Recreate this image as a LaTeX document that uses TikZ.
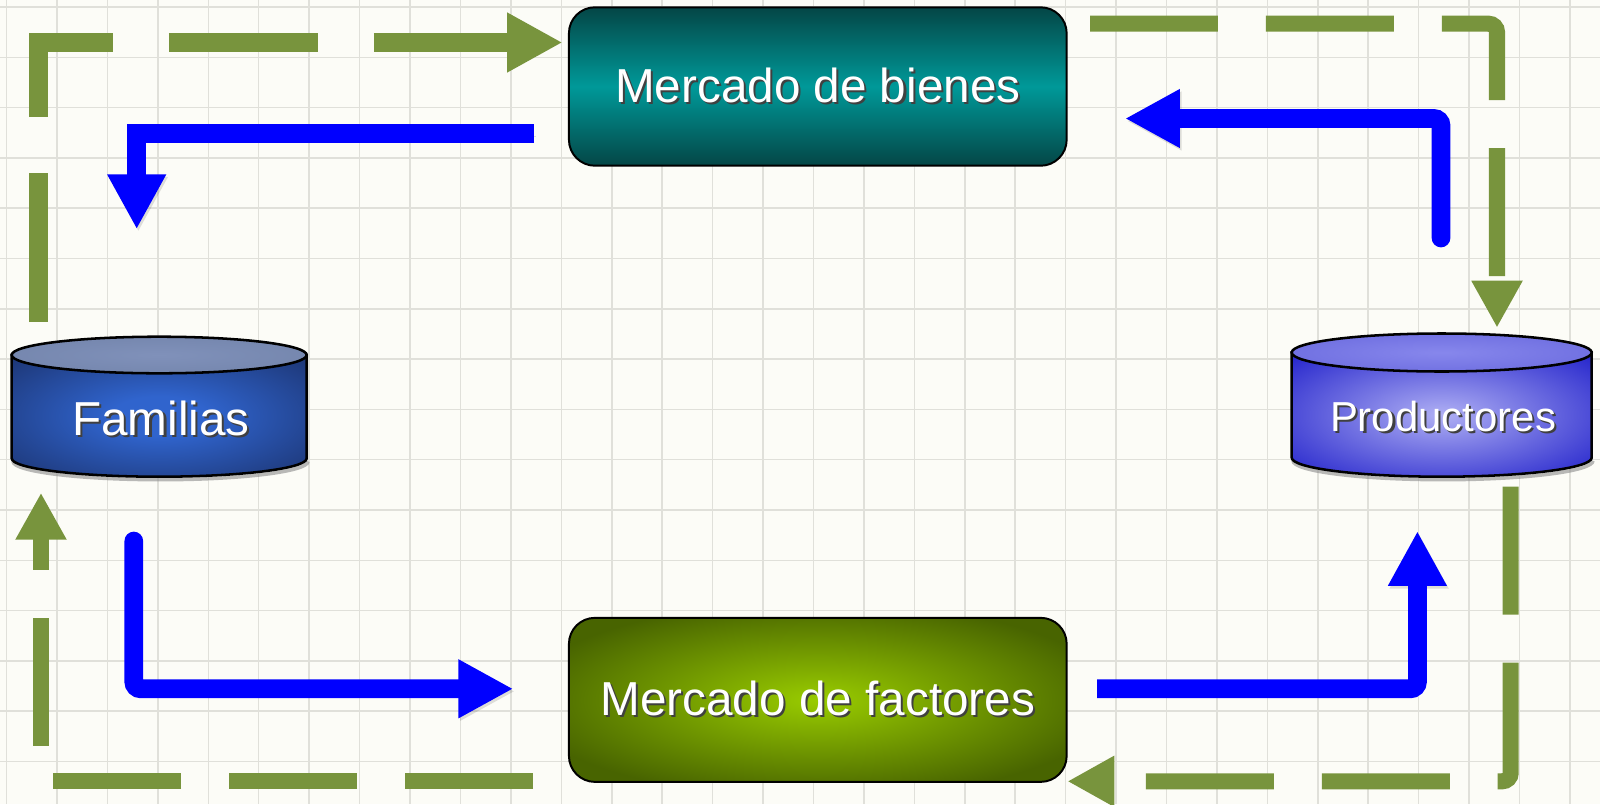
\documentclass[tikz,border=0pt]{standalone}
\usepackage{fontspec}
\setmainfont{Liberation Sans}
\usepackage{tikz}
\usetikzlibrary{arrows.meta,positioning}

\definecolor{paper}{RGB}{252,252,247}
\definecolor{gridgray}{RGB}{224,224,218}
\definecolor{olive}{RGB}{120,148,61}
\definecolor{flowblue}{RGB}{0,0,255}
\definecolor{tealdark}{RGB}{4,70,70}
\definecolor{tealmid}{RGB}{0,153,153}
\definecolor{limecenter}{RGB}{153,204,0}
\definecolor{limeedge}{RGB}{72,100,0}
\definecolor{famedge}{RGB}{25,45,100}
\definecolor{famcenter}{RGB}{48,100,205}
\definecolor{famlid}{RGB}{108,126,164}
\definecolor{famlidc}{RGB}{128,145,186}
\definecolor{prodedge}{RGB}{24,24,200}
\definecolor{prodcenter}{RGB}{175,175,244}
\definecolor{prodlid}{RGB}{92,92,216}
\definecolor{prodlidc}{RGB}{135,135,236}

\pgfdeclareverticalshading{tealband}{100bp}{color(0bp)=(tealdark); color(25bp)=(tealdark); color(50bp)=(tealmid); color(75bp)=(tealdark); color(100bp)=(tealdark)}
\pgfdeclareradialshading{limeglow}{\pgfpoint{0bp}{0bp}}{color(0bp)=(limecenter); color(30bp)=(limeedge); color(50bp)=(limeedge)}
\pgfdeclareradialshading{famglow}{\pgfpoint{0bp}{0bp}}{color(0bp)=(famcenter); color(8bp)=(famcenter); color(40bp)=(famedge); color(50bp)=(famedge)}
\pgfdeclareradialshading{famtop}{\pgfpoint{0bp}{0bp}}{color(0bp)=(famlidc); color(50bp)=(famlid)}
\pgfdeclareradialshading{prodglow}{\pgfpoint{0bp}{0bp}}{color(0bp)=(prodcenter); color(38bp)=(prodedge); color(50bp)=(prodedge)}
\pgfdeclareradialshading{prodtop}{\pgfpoint{0bp}{0bp}}{color(0bp)=(prodlidc); color(50bp)=(prodlid)}

\newcommand{\embossed}[1]{\leavevmode\rlap{\kern1.5pt\raisebox{-1.5pt}{\color{black!75}#1}}#1}

\tikzstyle{gridline}=[
	draw=gridgray,
	line width=1.1pt
]
\tikzstyle{market}=[
	rectangle,
	rounded corners=0.65cm,
	draw=black,
	line width=1.4pt,
	inner sep=0pt,
	outer sep=0pt,
	minimum width=12.44cm,
	text=white,
	font=\fontsize{33.9}{40}\selectfont
]
\tikzstyle{goods}=[
	market,
	minimum height=3.96cm,
	shading=tealband
]
\tikzstyle{factors}=[
	market,
	minimum height=4.1cm,
	shading=limeglow
]
\tikzstyle{cylwall}=[
	draw=black,
	line width=1.8pt
]
\tikzstyle{cylshadow}=[
	draw=black!45,
	line width=2.5pt,
	opacity=0.6
]
\tikzstyle{cyllabel}=[
	anchor=base,
	inner sep=0pt,
	text=white
]
\tikzstyle{greenflow}=[
	draw=olive,
	line width=11.4pt,
	dash pattern=on 91pt off 34.1pt,
	-{Triangle[length=33.4pt, width=34pt]}
]
\tikzstyle{greenwide}=[
	greenflow,
	line width=13.1pt,
	dash pattern=on 106pt off 39.8pt,
	-{Triangle[length=39.5pt, width=39.8pt]}
]
\tikzstyle{blueflow}=[
	draw=flowblue,
	line width=13.3pt,
	-{Triangle[length=39.1pt, width=39.1pt]},
	preaction={draw=black, opacity=0.12, transform canvas={xshift=1.2pt, yshift=-1.8pt}}
]

\begin{document}
\begin{tikzpicture}[x=0.025cm, y=-0.025cm]
\fill[paper] (0,0) rectangle (1600,804);
\useasboundingbox (0,0) rectangle (1600,804);

% grid
\foreach \k in {-1,...,30}
    \draw[gridline] ({57+50.43*\k},0) -- ({57+50.43*\k},804);
\foreach \k in {0,...,15}
    \draw[gridline] (0,{7+50.3*\k}) -- (1600,{7+50.3*\k});

% markets
\node[goods] (bienes) at (817.8,86.5) {\embossed{Mercado de bienes}};
\node[factors, below=11.3cm of bienes] (factores) {\embossed{Mercado de factores}};

% cylinders
\draw[cylshadow] (13,461.4) arc[start angle=180, end angle=0, x radius=147.5, y radius=18.3];
\shadedraw[cylwall, shading=famglow] (11.7,355) -- (11.7,458.4)
    arc[start angle=180, end angle=0, x radius=147.5, y radius=18.3] -- (306.7,355) -- cycle;
\shadedraw[cylwall, shading=famtop] (159.2,355) ellipse [x radius=147.5, y radius=18.3];
\node[cyllabel, font=\fontsize{33.9}{40}\selectfont] (familias) at (161,435) {\embossed{Familias}};

\draw[cylshadow] (1293,460.7) arc[start angle=180, end angle=0, x radius=150, y radius=19];
\shadedraw[cylwall, shading=prodglow] (1291.7,352.5) -- (1291.7,457.7)
    arc[start angle=180, end angle=0, x radius=150, y radius=19] -- (1591.7,352.5) -- cycle;
\shadedraw[cylwall, shading=prodtop] (1441.7,352.5) ellipse [x radius=150, y radius=19];
\node[cyllabel, font=\fontsize{29.8}{36}\selectfont] (productores) at (1443,431.7) {\embossed{Productores}};

% flow ends
\coordinate (g1s) at (38.3,322);
\coordinate (g1e) at (562.6,42.5);
\coordinate (g2s) at (1090,23.7);
\coordinate (g2e) at (1497,327.7);
\coordinate (g3s) at (1510.7,486.7);
\coordinate (g3e) at (1067.4,781.3);
\coordinate (g4s) at (533,781.3);
\coordinate (g4e) at (41,492.7);
\coordinate (b1s) at (534,133.3);
\coordinate (b1e) at (136.7,229.3);
\coordinate (b2s) at (1441,238);
\coordinate (b2e) at (1125,118.5);
\coordinate (b3s) at (133.8,541);
\coordinate (b3e) at (513.3,688.8);
\coordinate (b4s) at (1097,688.8);
\coordinate (b4e) at (1417.4,531);

% money and goods
\draw[greenwide] (g1s) |- (g1e);
\draw[greenflow, rounded corners=6pt] (g2s) -| (g2e);
\draw[greenflow, rounded corners=6pt] (g3s) |- (g3e);
\draw[greenflow] (g4s) -| (g4e);

\draw[blueflow] (b1s) -| (b1e);
\draw[blueflow, line cap=round, rounded corners=5pt] (b2s) |- (b2e);
\draw[blueflow, line cap=round, rounded corners=5pt] (b3s) |- (b3e);
\draw[blueflow, rounded corners=5pt] (b4s) -| (b4e);
\end{tikzpicture}
\end{document}
